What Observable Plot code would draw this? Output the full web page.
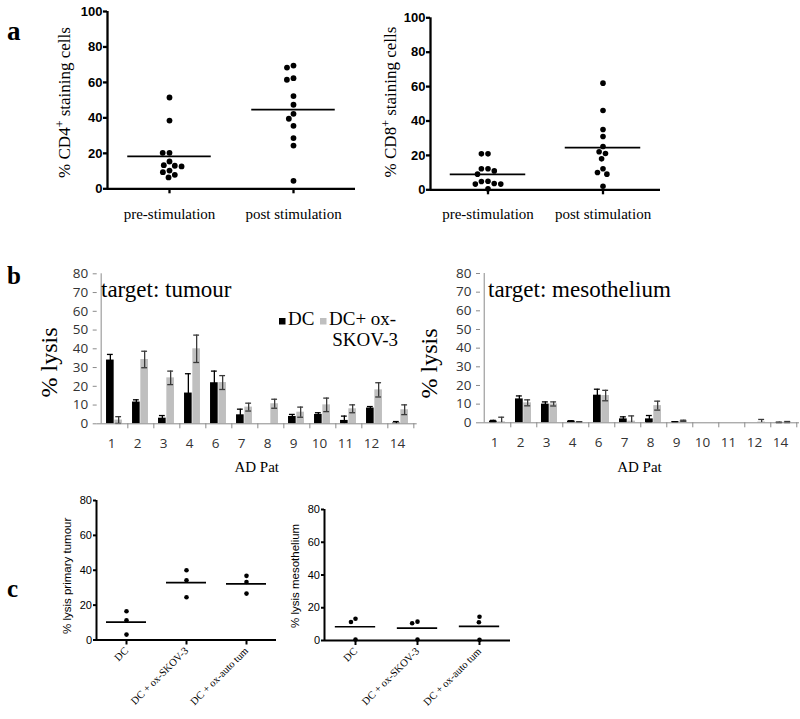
<!DOCTYPE html>
<html><head><meta charset="utf-8">
<script src="https://cdn.jsdelivr.net/npm/d3@7"></script>
<script src="https://cdn.jsdelivr.net/npm/@observablehq/plot@0.6"></script>
<style>
html,body{margin:0;padding:0;background:#fff;}
#fig{position:relative;width:800px;height:719px;overflow:hidden;background:#fff;}
.pane{position:absolute;}
.pane svg{overflow:visible;max-width:none;}
#overlay{position:absolute;left:0;top:0;pointer-events:none;overflow:visible;}
</style></head><body><div id="fig"></div>
<script>
// ---------- DATA ----------
// panel a
const aGroups = ["pre-stimulation", "post stimulation"];
const cd4Pre  = [51.5, 38.5, 20.3, 20.3, 15.4, 13.3, 13.0, 12.6, 10.3, 9.4, 7.9, 6.4];
const cd4Post = [69.5, 68.4, 62.4, 61.5, 52.3, 47.4, 42.3, 39.5, 35.5, 28.6, 24.4, 4.5];
const cd8Pre  = [20.9, 20.9, 12.2, 12.2, 11.0, 9.1, 5.0, 4.8, 3.7, 3.3, 3.3, 0.6];
const cd8Post = [62.0, 46.1, 35.1, 31.0, 25.2, 22.1, 21.1, 18.0, 12.2, 10.1, 9.1, 2.1];
const aTicks = [0, 20, 40, 60, 80, 100];
// panel b
const patients = ["1", "2", "3", "4", "6", "7", "8", "9", "10", "11", "12", "14"];
const tumDC     = [34.0, 11.6, 3.0, 16.4, 21.9, 4.8, 0, 3.9, 5.0, 1.8, 8.4, 0.4];
const tumDCErr  = [3.0, 1.2, 1.4, 10.3, 6.2, 3.0, 0, 1.1, 0.9, 2.3, 0.8, 0.8];
const tumOx     = [2.0, 34.3, 24.5, 40.0, 22.0, 8.9, 10.7, 6.2, 10.1, 8.0, 18.1, 7.5];
const tumOxErr  = [1.8, 4.4, 3.6, 7.3, 3.7, 2.1, 2.4, 2.7, 3.6, 2.1, 3.8, 2.6];
const mesDC     = [0.9, 12.8, 10.0, 0.9, 14.8, 2.1, 2.1, 0.5, 0, 0, 0, 0.2];
const mesDCErr  = [0.4, 1.6, 1.2, 0.2, 3.2, 1.1, 1.8, 0.1, 0, 0, 0, 0.1];
const mesOx     = [0.5, 10.7, 10.1, 0.5, 14.6, 0.9, 9.2, 1.1, 0, 0, 0.4, 0.4];
const mesOxErr  = [2.5, 1.6, 1.1, 0.1, 2.8, 2.8, 2.4, 0.3, 0, 0, 1.4, 0.3];
const bTicks = [0, 10, 20, 30, 40, 50, 60, 70, 80];
const bSeries = ["DC", "DC+ ox-SKOV-3"];
// panel c
const cGroups = ["DC", "DC + ox-SKOV-3", "DC + ox-auto tum"];
const cTumDC   = [16.5, 11.3, 3.1];
const cTumSkov = [40.0, 34.3, 24.5];
const cTumAuto = [36.8, 33.3, 26.6];
const cMesDC   = [13.3, 11.3, 0.6];
const cMesSkov = [11.5, 10.5, 0.6];
const cMesAuto = [14.5, 11.1, 0.4];
const cTicks = [0, 20, 40, 60, 80];

// ---------- LAYOUT ----------
const SERIF = "Liberation Serif";
const SANS = "Liberation Sans";
const fig = document.getElementById("fig");
function place(node, left, top) {
  const d = document.createElement("div");
  d.className = "pane";
  d.style.left = left + "px";
  d.style.top = top + "px";
  d.appendChild(node);
  fig.appendChild(d);
}

function scatter(groups, series, o) {
  const rows = series.flatMap((vals, i) => vals.map(v => ({g: groups[i], v})));
  const step = (o.width - o.mL - o.mR) / groups.length;
  const inset = (step - o.meanLen) / 2;
  return Plot.plot({
    width: o.width, height: o.height,
    marginLeft: o.mL, marginRight: o.mR, marginTop: o.mT, marginBottom: o.mB,
    style: {background: "transparent", overflow: "visible"},
    fx: {domain: groups, padding: 0},
    x: {domain: [0, 1], axis: null},
    y: {domain: [0, o.yMax]},
    marks: [
      Plot.ruleY([0], {strokeWidth: o.axisW}),
      Plot.ruleX([groups[0]], {fx: d => d, x: () => 0, strokeWidth: o.axisW}),
      Plot.axisY({ticks: o.yTicks, label: null, tickSize: o.tickSize, tickPadding: o.tickPad,
        strokeWidth: o.axisW, fontSize: o.tickFont, fontWeight: o.tickWeight, fontFamily: SANS}),
      Plot.axisFx({anchor: "bottom", label: null, tickSize: o.fxTickSize, tickPadding: o.fxPad, tickRotate: o.fxRotate || 0,
        strokeWidth: o.axisW, fontSize: o.fxFont, fontFamily: SERIF}),
      Plot.ruleY(rows, Plot.groupZ({y: "mean"}, {fx: "g", y: "v", insetLeft: inset, insetRight: inset, strokeWidth: o.meanW})),
      Plot.dot(rows, Plot.dodgeX("middle", {fx: "g", y: "v", r: o.r, padding: o.pad, fill: "black", stroke: "none"}))
    ]
  });
}

function bars(dc, dcErr, ox, oxErr, o) {
  const rows = patients.map((p, i) => ({p, dc: dc[i], dcE: dcErr[i], ox: ox[i], oxE: oxErr[i]}));
  const step = (o.width - o.mL - o.mR) / patients.length;
  const bw = 8.3, off = bw / 2, capW = 6.5;
  const bi = (step - bw) / 2, ci = (step - capW) / 2;
  const errMarks = (key, eKey, dx, color) => {
    const withErr = rows.filter(d => d[eKey] > 0);
    return [
      Plot.ruleX(withErr, {x: "p", y1: d => Math.max(0, d[key] - d[eKey]), y2: d => d[key] + d[eKey], dx, stroke: color, strokeWidth: 1.3}),
      Plot.tickY(withErr, {x: "p", y: d => d[key] + d[eKey], dx, insetLeft: ci, insetRight: ci, stroke: color, strokeWidth: 1.3}),
      Plot.tickY(withErr.filter(d => d[key] - d[eKey] > 0), {x: "p", y: d => d[key] - d[eKey], dx, insetLeft: ci, insetRight: ci, stroke: color, strokeWidth: 1.3})
    ];
  };
  return Plot.plot({
    width: o.width, height: o.height,
    marginLeft: o.mL, marginRight: o.mR, marginTop: o.mT, marginBottom: o.mB,
    style: {background: "transparent", overflow: "visible"},
    x: {domain: patients, padding: 0},
    y: {domain: [0, 80]},
    marks: [
      Plot.barY(rows, {x: "p", y: "dc", fill: "black", dx: -off, insetLeft: bi, insetRight: bi}),
      Plot.barY(rows, {x: "p", y: "ox", fill: "#bfbfbf", dx: off, insetLeft: bi, insetRight: bi}),
      ...errMarks("dc", "dcE", -off, "#000"),
      ...errMarks("ox", "oxE", off, "#3a3a3a"),
      Plot.ruleY([0], {stroke: "#8a8a8a", strokeWidth: 1}),
      Plot.ruleX([patients[0]], {dx: -step / 2, stroke: "#8a8a8a", strokeWidth: 1}),
      Plot.axisY({ticks: bTicks, label: null, tickSize: 4, tickPadding: 5, stroke: "#8a8a8a",
        fontSize: 13.5, fontFamily: "Open Sans", fill: "#333"}),
      Plot.axisX({label: null, tickSize: 0, tickPadding: 14.6, dx: -3, fontSize: 13.5, fontFamily: "Open Sans", fill: "#333"}),
      Plot.axisX({label: null, tickSize: 5, fill: "none", dx: step / 2, stroke: "#8a8a8a"})
    ]
  });
}

// panel a
place(scatter(aGroups, [cd4Pre, cd4Post], {
  width: 360, height: 230, mL: 106, mR: 5, mT: 11, mB: 41.7, yMax: 100, yTicks: aTicks,
  axisW: 2.3, tickSize: 4, tickPad: 1, tickFont: 13, tickWeight: "bold",
  fxTickSize: 5, fxPad: 15, fxFont: 15, meanLen: 84, meanW: 1.8, r: 2.9, pad: 4.6
}), 0, 0);
place(scatter(aGroups, [cd8Pre, cd8Post], {
  width: 310, height: 230, mL: 69, mR: 10, mT: 17.3, mB: 40.7, yMax: 100, yTicks: aTicks,
  axisW: 2.3, tickSize: 4, tickPad: 1, tickFont: 13, tickWeight: "bold",
  fxTickSize: 5, fxPad: 14, fxFont: 15, meanLen: 76, meanW: 1.8, r: 2.8, pad: 3.8
}), 360, 0);

// panel b
place(bars(tumDC, tumDCErr, tumOx, tumOxErr, {width: 420, height: 200, mL: 96.7, mR: 3.3, mT: 8.3, mB: 41.7}), 0, 265);
place(bars(mesDC, mesDCErr, mesOx, mesOxErr, {width: 416, height: 200, mL: 96, mR: 1, mT: 8, mB: 42.7}), 384, 265);

// panel c
place(scatter(cGroups, [cTumDC, cTumSkov, cTumAuto], {
  width: 290, height: 229, mL: 96, mR: 14, mT: 10, mB: 79.5, yMax: 80, yTicks: cTicks,
  axisW: 2, tickSize: 3, tickPad: 1.5, tickFont: 11, tickWeight: "normal",
  fxTickSize: 5, fxPad: 4, fxFont: 10.5, fxRotate: -45, meanLen: 40, meanW: 1.7, r: 2.3, pad: 2.4
}), 0, 490);
place(scatter(cGroups, [cMesDC, cMesSkov, cMesAuto], {
  width: 290, height: 229, mL: 93, mR: 9, mT: 19, mB: 79, yMax: 80, yTicks: cTicks,
  axisW: 2, tickSize: 3, tickPad: 1.5, tickFont: 11, tickWeight: "normal",
  fxTickSize: 5, fxPad: 4, fxFont: 10.5, fxRotate: -45, meanLen: 41, meanW: 1.7, r: 2.3, pad: 2.4
}), 230, 490);

// ---------- TEXT OVERLAY (panel letters, axis titles, legend) ----------
const ns = "http://www.w3.org/2000/svg";
const ov = document.createElementNS(ns, "svg");
ov.setAttribute("id", "overlay");
ov.setAttribute("width", 800);
ov.setAttribute("height", 719);
ov.innerHTML = `
<g font-family="${SERIF}" fill="#000">
  <text x="7" y="40" font-size="27" font-weight="bold">a</text>
  <text x="7" y="284" font-size="25" font-weight="bold">b</text>
  <text x="7" y="597" font-size="25" font-weight="bold">c</text>
  <text transform="translate(70,102.5) rotate(-90)" text-anchor="middle" font-size="17">% CD4<tspan dy="-6" font-size="12">+</tspan><tspan dy="6"> staining cells</tspan></text>
  <text transform="translate(396,102) rotate(-90)" text-anchor="middle" font-size="17">% CD8<tspan dy="-6" font-size="12">+</tspan><tspan dy="6"> staining cells</tspan></text>
  <text transform="translate(57,362.5) rotate(-90)" text-anchor="middle" font-size="24">% lysis</text>
  <text transform="translate(437,363.5) rotate(-90)" text-anchor="middle" font-size="24">% lysis</text>
  <text x="101" y="297" font-size="23">target: tumour</text>
  <text x="488" y="297" font-size="23">target: mesothelium</text>
  <text x="256.7" y="472" text-anchor="middle" font-size="15">AD Pat</text>
  <text x="639.5" y="472" text-anchor="middle" font-size="15">AD Pat</text>
  <rect x="279" y="318" width="6.5" height="6.5" fill="#000"></rect>
  <text x="288" y="325" font-size="19">${bSeries[0]}</text>
  <rect x="320" y="318" width="6.5" height="6.5" fill="#bfbfbf"></rect>
  <text x="329" y="325" font-size="19">DC+ ox-</text>
  <text x="398" y="346" font-size="19" text-anchor="end">SKOV-3</text>
</g>
<g font-family="${SANS}" fill="#000" font-size="11.5">
  <text transform="translate(71,634) rotate(-90)">% lysis primary tumour</text>
  <text transform="translate(299,628) rotate(-90)">% lysis mesothelium</text>
</g>`;
fig.appendChild(ov);
</script>
</body></html>
